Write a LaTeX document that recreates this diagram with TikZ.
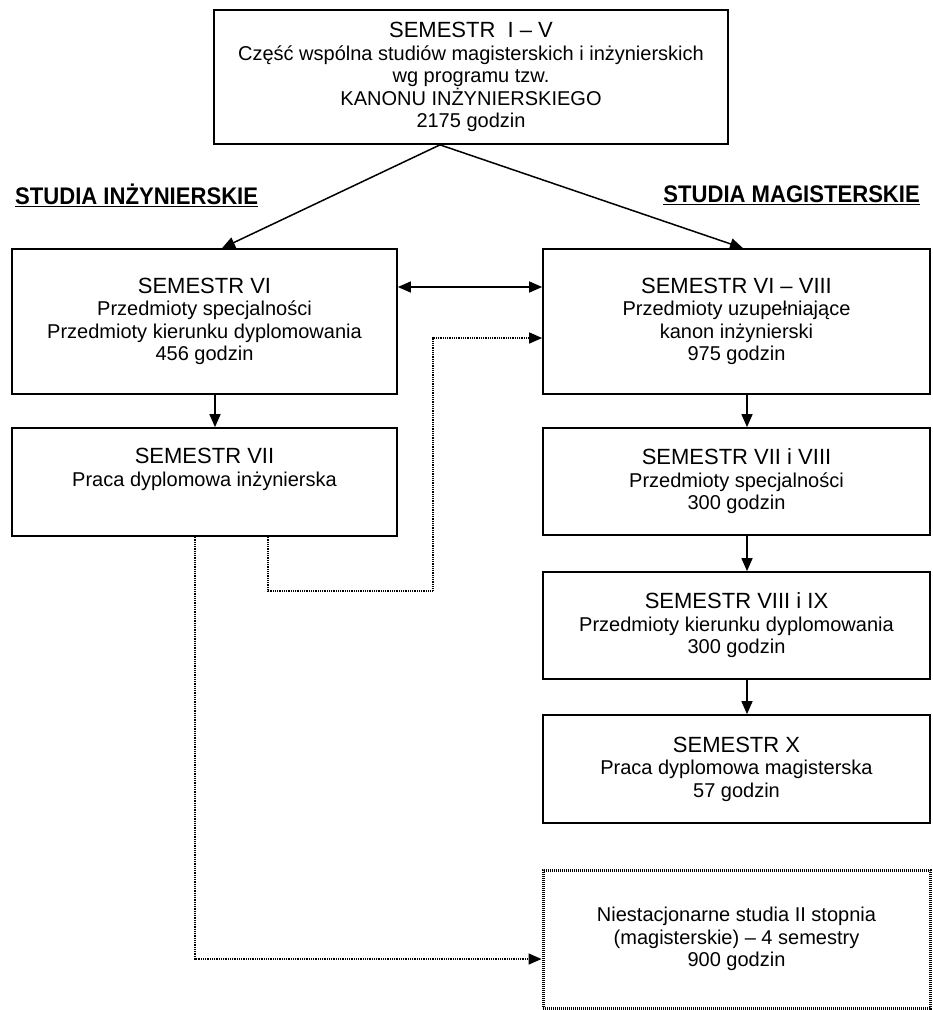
\documentclass[tikz,border=0pt]{standalone}
\usepackage{fontspec}
\setmainfont{Liberation Sans}
\usetikzlibrary{arrows.meta}
\newcommand\ttl[1]{{\fontsize{22}{25}\selectfont #1}}
\newcommand\headlab[1]{\scalebox{0.92}[1]{\underline{#1}}}
\tikzset{
  box/.style={draw, line width=1.7pt, align=center, inner sep=0pt,
    font=\fontsize{20}{22.5}\selectfont},
  lbox/.style={box, minimum width=385pt},
  rbox/.style={box, minimum width=387pt},
  dbox/.style={box, minimum width=387pt, line width=3pt, dash pattern=on 1.2pt off 0.8pt},
  lab/.style={inner sep=0pt, font=\fontsize{24}{27}\selectfont\bfseries},
  tip/.style={-{Triangle[length=13pt,width=11pt]}},
  arr/.style={line width=1.5pt, tip},
  darr/.style={line width=1.5pt, {Triangle[length=13pt,width=11pt]}-{Triangle[length=13pt,width=11pt]}},
  dotline/.style={line width=1.5pt, dash pattern=on 1pt off 0.8pt, tip},
}
\begin{document}
\begin{tikzpicture}[x=1pt,y=1pt]
\useasboundingbox[fill=white] (0,0) rectangle (933,-1010);

\node[box, minimum width=514pt, minimum height=134pt] (top) at (471,-77)
  {\ttl{SEMESTR~ I – V}\\Część wspólna studiów magisterskich i inżynierskich\\wg programu tzw.\\KANONU INŻYNIERSKIEGO\\2175 godzin};

\node[lab, anchor=west] (li) at (15,-195) {\headlab{STUDIA INŻYNIERSKIE}};
\node[lab, anchor=east] (lm) at (920,-195) {\headlab{STUDIA MAGISTERSKIE}};

\node[lbox, minimum height=145pt] (lvi) at (204.5,-321.5)
  {\ttl{SEMESTR VI}\\Przedmioty specjalności\\Przedmioty kierunku dyplomowania\\456 godzin};
\node[lbox, minimum height=108pt] (lvii) at (204.5,-482)
  {\ttl{SEMESTR VII}\\Praca dyplomowa inżynierska\\\strut};

\node[rbox, minimum height=145pt] (rvi) at (736.5,-321.5)
  {\ttl{SEMESTR VI – VIII}\\Przedmioty uzupełniające\\kanon inżynierski\\975 godzin};
\node[rbox, minimum height=107pt] (rvii) at (736.5,-481.5)
  {\ttl{SEMESTR VII i VIII}\\Przedmioty specjalności\\300 godzin};
\node[rbox, minimum height=107pt] (rviii) at (736.5,-625.5)
  {\ttl{SEMESTR VIII i IX}\\Przedmioty kierunku dyplomowania\\300 godzin};
\node[rbox, minimum height=108pt] (rx) at (736.5,-769)
  {\ttl{SEMESTR X}\\Praca dyplomowa magisterska\\57 godzin};
\node[dbox, minimum height=138pt] (nst) at (736.5,-939)
  {Niestacjonarne studia II stopnia\\(magisterskie) – 4 semestry\\900 godzin};

\coordinate (apex) at ([xshift=-31pt]top.south);
\draw[arr] (apex) -- ([xshift=17.5pt]lvi.north);
\draw[arr] (apex) -- ([xshift=6.5pt]rvi.north);

\draw[darr] ([yshift=34.5pt]lvi.east) -- ([yshift=34.5pt]rvi.west);

\draw[arr] ([xshift=10.5pt]lvi.south) -- ([xshift=10.5pt]lvii.north);
\draw[arr] ([xshift=10.5pt]rvi.south) -- ([xshift=10.5pt]rvii.north);
\draw[arr] ([xshift=10.5pt]rvii.south) -- ([xshift=10.5pt]rviii.north);
\draw[arr] ([xshift=10.5pt]rviii.south) -- ([xshift=10.5pt]rx.north);

\coordinate (turn) at (433,-591);
\draw[dotline] ([xshift=63.5pt]lvii.south) |- (turn) |- ([yshift=-16.5pt]rvi.west);
\draw[dotline] ([xshift=-9.5pt]lvii.south) |- ([yshift=-20pt]nst.west);
\end{tikzpicture}
\end{document}
